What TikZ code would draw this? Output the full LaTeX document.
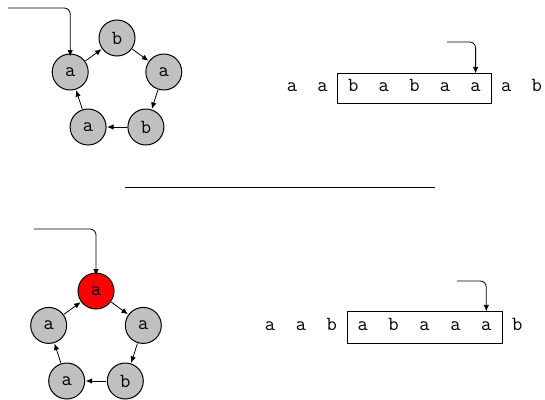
\documentclass[tikz,border=0pt]{standalone}
\usetikzlibrary{arrows.meta,fit}
\definecolor{ringgray}{RGB}{192,192,192}
\tikzset{
  x=1pt, y=-1pt,
  ring/.style={circle, draw=black, line width=1pt, fill=ringgray, minimum size=36pt, inner sep=0pt, font=\fontsize{20}{22}\ttfamily},
  hot/.style={ring, fill=red},
  link/.style={-{Latex[length=6.5pt,width=5.5pt]}, line width=0.8pt, shorten >=0.5pt, shorten <=0.5pt},
  feed/.style={-{Latex[length=6.5pt,width=5.5pt]}, line width=0.8pt, rounded corners=6pt},
  letter/.style={inner sep=0pt, minimum height=#1, text height=1.6ex, text depth=0.2ex, font=\fontsize{20}{22}\ttfamily},
  winbox/.style={draw=black, line width=0.8pt, inner sep=0pt},
}
\begin{document}
\begin{tikzpicture}
\useasboundingbox (0,0) rectangle (545,399);
% top ring
\node[ring] (ta1) at (70.2,72) {a};
\node[ring] (tb1) at (117,38) {b};
\node[ring] (ta2) at (163.8,72) {a};
\node[ring] (tb2) at (145.9,127) {b};
\node[ring] (ta3) at (88.1,127) {a};
\draw[link] (ta1) -- (tb1);
\draw[link] (tb1) -- (ta2);
\draw[link] (ta2) -- (tb2);
\draw[link] (tb2) -- (ta3);
\draw[link] (ta3) -- (ta1);
\coordinate (tin) at (8,8);
\draw[feed] (tin) -| ([yshift=-3pt]ta1.north);
% top string
\foreach \c [count=\k from 0] in {a,a,b,a,b,a,a,a,b}{
  \node[letter=29pt, minimum width=30.6pt] (ts\k) at ({292+30.6*\k},88.5) {\c};
}
\node[winbox, fit=(ts2)(ts6)] (tbox) {};
\coordinate (tsin) at (447,42);
\draw[feed] (tsin) -| (ts6.north |- tbox.north);
% separator
\coordinate (sepl) at (125,187);
\coordinate (sepr) at (435,187);
\draw[line width=1pt] (sepl) -- (sepr);
% bottom ring
\node[hot] (ba1) at (96,291) {a};
\node[ring] (ba2) at (143.3,325.4) {a};
\node[ring] (bb1) at (125.3,381) {b};
\node[ring] (ba3) at (66.7,381) {a};
\node[ring] (ba4) at (48.7,325.4) {a};
\draw[link] (ba1) -- (ba2);
\draw[link] (ba2) -- (bb1);
\draw[link] (bb1) -- (ba3);
\draw[link] (ba3) -- (ba4);
\draw[link] (ba4) -- (ba1);
\coordinate (bin) at (34,229);
\draw[feed] (bin) -| ([yshift=-3pt]ba1.north);
% bottom string
\foreach \c [count=\k from 0] in {a,a,b,a,b,a,a,a,b}{
  \node[letter=31pt, minimum width=30.9pt] (bs\k) at ({270+30.9*\k},327.5) {\c};
}
\node[winbox, fit=(bs3)(bs7)] (bbox) {};
\coordinate (bsin) at (457,281);
\draw[feed] (bsin) -| (bs7.north |- bbox.north);
\end{tikzpicture}
\end{document}
